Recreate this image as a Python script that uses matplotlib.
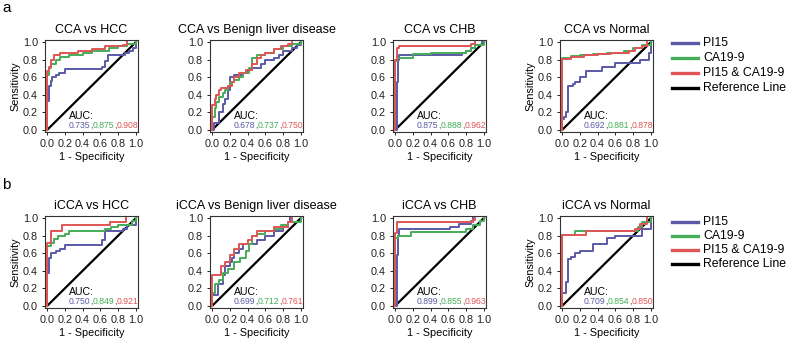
import matplotlib
matplotlib.use("Agg")
import matplotlib.pyplot as plt
from matplotlib.lines import Line2D
from matplotlib.offsetbox import TextArea, HPacker, AnchoredOffsetbox

plt.rcParams['font.family'] = ['Liberation Sans', 'DejaVu Sans']

# ---------------- data ----------------
titles_a = ["CCA vs HCC", "CCA vs Benign liver disease", "CCA vs CHB", "CCA vs Normal"]
titles_b = ["iCCA vs HCC", "iCCA vs Benign liver disease", "iCCA vs CHB", "iCCA vs Normal"]
series_names = ["PI15", "CA19-9", "PI15 & CA19-9", "Reference Line"]

# Panel a1: CCA vs HCC
a1_pi15_x = [0, 0, 0.02, 0.04, 0.06, 0.10, 0.13, 0.20, 0.62, 0.65, 0.68, 0.88, 0.92, 0.97, 1.0]
a1_pi15_y = [0, 0.33, 0.50, 0.56, 0.60, 0.62, 0.65, 0.69, 0.72, 0.78, 0.85, 0.88, 0.90, 0.93, 1.0]
a1_ca_x = [0, 0, 0.02, 0.05, 0.10, 0.15, 0.25, 0.40, 0.50, 0.70, 0.80, 0.90, 1.0]
a1_ca_y = [0, 0.62, 0.70, 0.75, 0.80, 0.83, 0.85, 0.87, 0.90, 0.93, 0.95, 0.98, 1.0]
a1_comb_x = [0, 0, 0.02, 0.05, 0.08, 0.15, 0.35, 0.50, 0.65, 0.85, 0.90]
a1_comb_y = [0, 0.67, 0.72, 0.80, 0.85, 0.88, 0.90, 0.92, 0.95, 0.97, 1.0]

# Panel a2: CCA vs Benign liver disease
a2_pi15_x = [0, 0.02, 0.08, 0.12, 0.15, 0.18, 0.20, 0.25, 0.35, 0.40, 0.45, 0.55, 0.60, 0.70, 0.75, 0.80, 0.90, 0.95, 1.0]
a2_pi15_y = [0, 0.08, 0.20, 0.30, 0.35, 0.45, 0.60, 0.62, 0.65, 0.68, 0.70, 0.75, 0.80, 0.82, 0.85, 0.90, 0.93, 0.97, 1.0]
a2_ca_x = [0, 0, 0.03, 0.05, 0.08, 0.12, 0.15, 0.18, 0.20, 0.25, 0.30, 0.35, 0.42, 0.45, 0.50, 0.60, 0.70, 0.80, 0.90, 1.0]
a2_ca_y = [0, 0.15, 0.25, 0.32, 0.38, 0.42, 0.45, 0.50, 0.55, 0.57, 0.60, 0.65, 0.70, 0.82, 0.85, 0.88, 0.92, 0.95, 0.98, 1.0]
a2_comb_x = [0, 0, 0.03, 0.05, 0.08, 0.10, 0.18, 0.22, 0.25, 0.30, 0.38, 0.45, 0.50, 0.55, 0.60, 0.70, 0.78, 0.85, 0.90]
a2_comb_y = [0, 0.28, 0.35, 0.40, 0.45, 0.48, 0.50, 0.55, 0.60, 0.65, 0.68, 0.75, 0.82, 0.85, 0.88, 0.92, 0.95, 0.98, 1.0]

# Panel a3: CCA vs CHB
a3_pi15_x = [0, 0.02, 0.03, 0.05, 0.75, 0.80, 0.85, 0.90, 0.98]
a3_pi15_y = [0, 0.55, 0.80, 0.85, 0.87, 0.90, 0.93, 0.97, 1.0]
a3_ca_x = [0, 0, 0.02, 0.20, 0.40, 0.50, 0.80, 0.85, 0.90, 1.0]
a3_ca_y = [0, 0.78, 0.82, 0.86, 0.87, 0.88, 0.90, 0.93, 0.97, 1.0]
a3_comb_x = [0, 0, 0.02, 0.05, 0.85, 0.90]
a3_comb_y = [0, 0.80, 0.93, 0.96, 0.98, 1.0]

# Panel a4: CCA vs Normal
a4_pi15_x = [0, 0, 0.02, 0.05, 0.07, 0.12, 0.15, 0.20, 0.27, 0.45, 0.59, 0.88, 0.98, 1.0]
a4_pi15_y = [0, 0.12, 0.15, 0.20, 0.50, 0.52, 0.55, 0.60, 0.67, 0.72, 0.76, 0.80, 0.88, 1.0]
a4_ca_x = [0, 0, 0.10, 0.20, 0.35, 0.50, 0.60, 0.70, 0.80, 0.90, 1.0]
a4_ca_y = [0, 0.82, 0.84, 0.85, 0.86, 0.87, 0.88, 0.90, 0.93, 0.97, 1.0]
a4_comb_x = [0, 0, 0.10, 0.25, 0.40, 0.55, 0.65, 0.75, 0.82, 0.90, 0.95]
a4_comb_y = [0, 0.81, 0.83, 0.85, 0.86, 0.87, 0.88, 0.90, 0.93, 0.96, 1.0]

# Panel b1: iCCA vs HCC
b1_pi15_x = [0, 0, 0.02, 0.05, 0.10, 0.15, 0.20, 0.62, 0.65, 0.85, 0.90, 1.0]
b1_pi15_y = [0, 0.38, 0.55, 0.60, 0.62, 0.65, 0.69, 0.75, 0.85, 0.88, 0.92, 1.0]
b1_ca_x = [0, 0, 0.05, 0.08, 0.12, 0.20, 0.25, 0.65, 0.72, 0.80, 0.95, 1.0]
b1_ca_y = [0, 0.68, 0.72, 0.76, 0.80, 0.82, 0.85, 0.88, 0.90, 0.92, 0.97, 1.0]
b1_comb_x = [0, 0, 0.05, 0.17, 0.71, 0.89]
b1_comb_y = [0, 0.72, 0.85, 0.92, 0.96, 1.0]

# Panel b2: iCCA vs Benign liver disease
b2_pi15_x = [0, 0, 0.07, 0.12, 0.15, 0.20, 0.22, 0.25, 0.30, 0.35, 0.50, 0.60, 0.70, 0.80, 0.85, 0.88]
b2_pi15_y = [0, 0.12, 0.25, 0.35, 0.45, 0.50, 0.55, 0.60, 0.65, 0.70, 0.75, 0.80, 0.85, 0.90, 0.95, 1.0]
b2_ca_x = [0, 0, 0.03, 0.08, 0.12, 0.18, 0.25, 0.32, 0.38, 0.42, 0.45, 0.50, 0.60, 0.70, 0.78, 0.85, 1.0]
b2_ca_y = [0, 0.15, 0.25, 0.30, 0.38, 0.42, 0.50, 0.55, 0.62, 0.70, 0.80, 0.82, 0.85, 0.88, 0.92, 0.95, 1.0]
b2_comb_x = [0, 0, 0.10, 0.15, 0.20, 0.25, 0.30, 0.40, 0.45, 0.50, 0.70, 0.85, 0.90]
b2_comb_y = [0, 0.35, 0.45, 0.50, 0.58, 0.65, 0.70, 0.75, 0.80, 0.85, 0.90, 0.95, 1.0]

# Panel b3: iCCA vs CHB
b3_pi15_x = [0, 0.02, 0.03, 0.05, 0.62, 0.72, 0.85, 0.88]
b3_pi15_y = [0, 0.58, 0.80, 0.88, 0.90, 0.93, 0.97, 1.0]
b3_ca_x = [0, 0, 0.03, 0.18, 0.80, 0.88, 0.95, 1.0]
b3_ca_y = [0, 0.77, 0.80, 0.84, 0.87, 0.92, 0.97, 1.0]
b3_comb_x = [0, 0, 0.02, 0.88, 0.90]
b3_comb_y = [0, 0.83, 0.96, 0.98, 1.0]

# Panel b4: iCCA vs Normal
b4_pi15_x = [0, 0, 0.05, 0.07, 0.10, 0.15, 0.20, 0.35, 0.50, 0.60, 0.90, 1.0]
b4_pi15_y = [0, 0.15, 0.27, 0.53, 0.56, 0.60, 0.62, 0.70, 0.77, 0.80, 0.87, 1.0]
b4_ca_x = [0, 0, 0.15, 0.85, 0.90, 1.0]
b4_ca_y = [0, 0.81, 0.85, 0.90, 0.95, 1.0]
b4_comb_x = [0, 0, 0.27, 0.82, 0.88, 0.95]
b4_comb_y = [0, 0.81, 0.85, 0.88, 0.93, 1.0]

auc_a = [("0.735", "0.875", "0.908"), ("0.678", "0.737", "0.750"),
         ("0.875", "0.888", "0.962"), ("0.692", "0.881", "0.878")]
auc_b = [("0.750", "0.849", "0.921"), ("0.699", "0.712", "0.761"),
         ("0.899", "0.855", "0.963"), ("0.709", "0.854", "0.850")]

curves_a = [
    [(a1_pi15_x, a1_pi15_y), (a1_ca_x, a1_ca_y), (a1_comb_x, a1_comb_y)],
    [(a2_pi15_x, a2_pi15_y), (a2_ca_x, a2_ca_y), (a2_comb_x, a2_comb_y)],
    [(a3_pi15_x, a3_pi15_y), (a3_ca_x, a3_ca_y), (a3_comb_x, a3_comb_y)],
    [(a4_pi15_x, a4_pi15_y), (a4_ca_x, a4_ca_y), (a4_comb_x, a4_comb_y)],
]
curves_b = [
    [(b1_pi15_x, b1_pi15_y), (b1_ca_x, b1_ca_y), (b1_comb_x, b1_comb_y)],
    [(b2_pi15_x, b2_pi15_y), (b2_ca_x, b2_ca_y), (b2_comb_x, b2_comb_y)],
    [(b3_pi15_x, b3_pi15_y), (b3_ca_x, b3_ca_y), (b3_comb_x, b3_comb_y)],
    [(b4_pi15_x, b4_pi15_y), (b4_ca_x, b4_ca_y), (b4_comb_x, b4_comb_y)],
]

colors = ["#5a5aa6", "#45ad58", "#e05555", "#000000"]
ticks = [0.0, 0.2, 0.4, 0.6, 0.8, 1.0]
tick_labels = ["0.0", "0.2", "0.4", "0.6", "0.8", "1.0"]

# ---------------- figure ----------------
W, H = 786, 344
fig = plt.figure(figsize=(W / 100, H / 100), dpi=100)

lefts = [45, 210, 393, 560]
aw = 93
rows = [(40, 132), (216, 308)]


def px_axes(left, top, bottom):
    return fig.add_axes([left / W, 1 - bottom / H, aw / W, (bottom - top) / H])


for r, (titles, curves, aucs) in enumerate([(titles_a, curves_a, auc_a), (titles_b, curves_b, auc_b)]):
    top, bottom = rows[r]
    for i in range(4):
        ax = px_axes(lefts[i], top, bottom)
        ax.plot([0, 1], [0, 1], color=colors[3], lw=1.6, zorder=2)
        for k, (xs, ys) in enumerate(curves[i]):
            ax.plot(xs, ys, drawstyle="steps-post", color=colors[k], lw=1.4, zorder=3 + k)
        ax.set_xlim(-0.023, 1.023)
        ax.set_ylim(-0.023, 1.023)
        ax.set_xticks(ticks)
        ax.set_xticklabels(tick_labels)
        ax.set_yticks(ticks)
        ax.set_yticklabels(tick_labels)
        ax.tick_params(labelsize=7.8, length=2.5, width=0.7, pad=2.5, colors="#222222")
        for s in ax.spines.values():
            s.set_linewidth(0.8)
            s.set_color("#333333")
        ax.set_xlabel("1 - Specificity", fontsize=7.8, labelpad=2)
        if i in (0, 3):
            ax.set_ylabel("Sensitivity", fontsize=7.8, labelpad=2)
        else:
            ax.set_ylabel("")
        ax.set_title(titles[i], fontsize=9, pad=5)
        ax.text(0.25, 0.13, "AUC:", fontsize=7.6, transform=ax.transData, ha="left", va="baseline")
        parts = []
        for k in range(3):
            parts.append(TextArea(aucs[i][k], textprops=dict(color=colors[k], fontsize=6.2)))
            if k < 2:
                parts.append(TextArea(",", textprops=dict(color="#444444", fontsize=6.2)))
        box = HPacker(children=parts, sep=0, pad=0, align="baseline")
        anc = AnchoredOffsetbox(loc="lower right", child=box, pad=0, borderpad=0, frameon=False,
                                bbox_to_anchor=(1.0, 0.02), bbox_transform=ax.transAxes)
        ax.add_artist(anc)

    # legend (manual, figure coordinates)
    ys_leg = [43, 58, 73, 88] if r == 0 else [222, 236, 250, 264]
    for k, name in enumerate(series_names):
        y = 1 - ys_leg[k] / H
        fig.add_artist(Line2D([672 / W, 698 / W], [y, y], color=colors[k], lw=2.4,
                              transform=fig.transFigure))
        fig.text(703 / W, y, name, fontsize=8.8, va="center", ha="left")

fig.text(2 / W, 1 - 8 / H, "a", fontsize=11, va="center", ha="left")
fig.text(2 / W, 1 - 185 / H, "b", fontsize=11, va="center", ha="left")

fig.savefig("out.png", dpi=100)
